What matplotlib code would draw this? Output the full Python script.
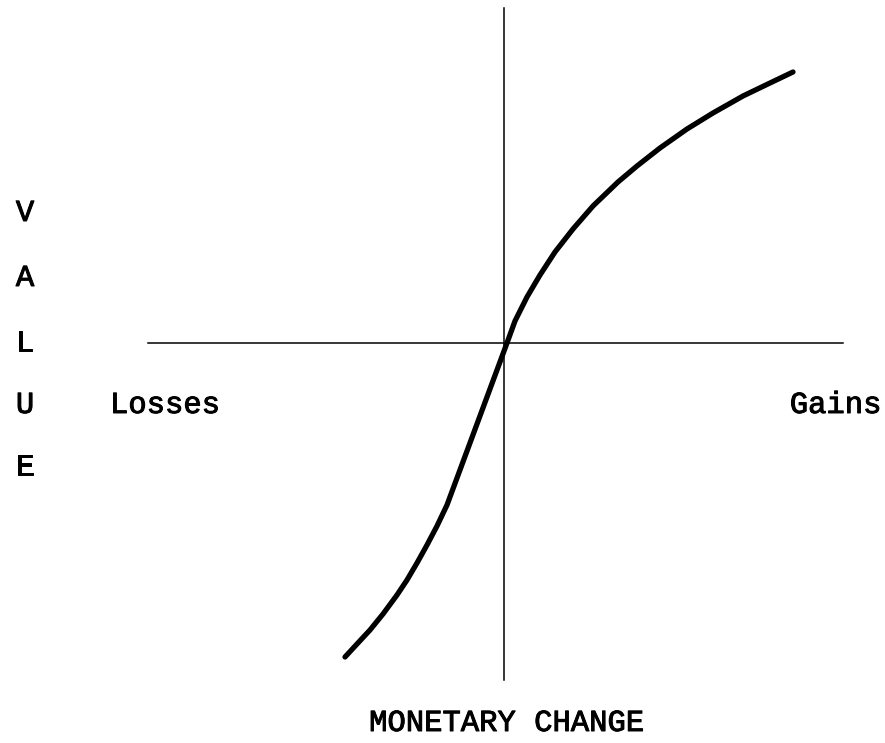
import matplotlib
matplotlib.use("Agg")
import matplotlib.pyplot as plt
import matplotlib.patheffects as pe
import numpy as np

# value function (origin at the axes crossing)
change = [-159, -147, -134, -121, -107, -97, -87, -77, -67, -57, -47, -37, -27, -17, -7,
          3, 11, 23, 36, 51, 69, 89, 114, 133, 156, 183, 209, 239, 266, 289]
value = [-314, -301, -287, -271, -252, -237, -220, -202, -183, -162, -135, -108, -81, -54, -27,
         0, 22, 46, 68, 91, 114, 137, 161, 177, 195, 214, 230, 247, 260, 271]

axis_x = [-356, 339]   # horizontal axis extent
axis_y = [-337, 335]   # vertical axis extent

ylab = ["V", "A", "L", "U", "E"]
ylab_pos = [130, 65, 0, -62, -124]

fig = plt.figure(figsize=(8.85, 7.43), dpi=100)
ax = fig.add_axes([0, 0, 1, 1])
ax.set_xlim(-504, 381)
ax.set_ylim(-400, 343)
ax.axis("off")

ax.plot(axis_x, [0, 0], color="black", lw=1.1)
ax.plot([0, 0], axis_y, color="black", lw=1.1)
ax.plot(change, value, color="black", lw=3.8, solid_capstyle="round", solid_joinstyle="round")

thick = [pe.withStroke(linewidth=0.7, foreground="black")]
font = dict(family="Liberation Mono", fontsize=22, color="black", path_effects=thick)
for s, yy in zip(ylab, ylab_pos):
    ax.text(-479, yy, s, ha="center", va="center", **font)
ax.text(-394, -62, "Losses", ha="left", va="center", **font)
ax.text(377, -62, "Gains", ha="right", va="center", **font)
ax.text(2, -380, "MONETARY CHANGE", ha="center", va="center", **font)

fig.savefig("out.png", dpi=100)
